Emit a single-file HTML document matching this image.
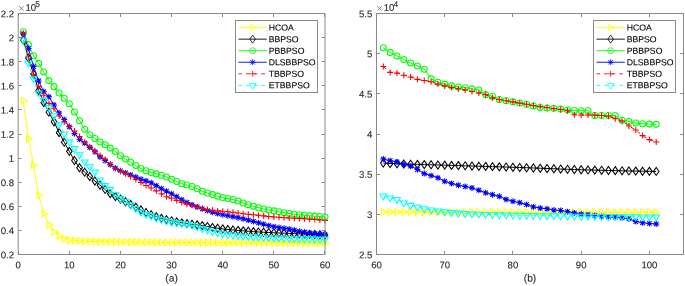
<!DOCTYPE html>
<html><head><meta charset="utf-8"><style>
html,body{margin:0;padding:0;background:#fff;}
body{width:685px;height:286px;overflow:hidden;}
svg{display:block;will-change:transform;}
text{font-family:"Liberation Sans",sans-serif;fill:#262626;stroke:#262626;stroke-width:0.1px;}
.t{font-size:9.6px;}
.l{font-size:10.2px;}
.g{font-size:8.7px;fill:#000;stroke:#000;}
.sup{font-size:8.3px;}
</style></head><body>
<svg width="685" height="286" viewBox="0 0 685 286">
<rect width="685" height="286" fill="#fff"/>
<defs><clipPath id="ca"><rect x="18.2" y="13.5" width="306.8" height="241.0"/></clipPath><clipPath id="cb"><rect x="376.5" y="13.5" width="307.0" height="241.0"/></clipPath></defs>
<g>
<polyline points="23.31,100.74 28.43,138.70 33.54,165.09 38.65,195.33 43.77,213.65 48.88,224.98 53.99,231.85 59.11,235.94 64.22,238.71 69.33,240.16 74.45,240.64 79.56,240.93 84.67,241.17 89.79,241.35 94.90,241.49 100.01,241.59 105.13,241.69 110.24,241.78 115.35,241.87 120.47,241.95 125.58,242.02 130.69,242.09 135.81,242.15 140.92,242.21 146.03,242.26 151.15,242.31 156.26,242.35 161.37,242.39 166.49,242.42 171.60,242.45 176.71,242.48 181.83,242.50 186.94,242.53 192.05,242.56 197.17,242.58 202.28,242.61 207.39,242.63 212.51,242.65 217.62,242.68 222.73,242.70 227.85,242.72 232.96,242.74 238.07,242.76 243.19,242.78 248.30,242.79 253.41,242.81 258.53,242.83 263.64,242.84 268.75,242.86 273.87,242.87 278.98,242.88 284.09,242.89 289.21,242.90 294.32,242.91 299.43,242.92 304.55,242.92 309.66,242.93 314.77,242.93 319.89,242.93 325.00,242.93" fill="none" stroke="#ffff00" stroke-width="1"/>
<g fill="none" stroke="#ffff00" stroke-width="1.05">
<path d="M27.21 100.74L21.36 97.36L21.36 104.12Z"/>
<path d="M32.33 138.70L26.48 135.32L26.48 142.08Z"/>
<path d="M37.44 165.09L31.59 161.71L31.59 168.47Z"/>
<path d="M42.55 195.33L36.70 191.96L36.70 198.71Z"/>
<path d="M47.67 213.65L41.82 210.27L41.82 217.03Z"/>
<path d="M52.78 224.98L46.93 221.60L46.93 228.35Z"/>
<path d="M57.89 231.85L52.04 228.47L52.04 235.22Z"/>
<path d="M63.01 235.94L57.16 232.57L57.16 239.32Z"/>
<path d="M68.12 238.71L62.27 235.34L62.27 242.09Z"/>
<path d="M73.23 240.16L67.38 236.78L67.38 243.54Z"/>
<path d="M78.35 240.64L72.50 237.27L72.50 244.02Z"/>
<path d="M83.46 240.93L77.61 237.56L77.61 244.31Z"/>
<path d="M88.57 241.17L82.72 237.79L82.72 244.55Z"/>
<path d="M93.69 241.35L87.84 237.97L87.84 244.73Z"/>
<path d="M98.80 241.49L92.95 238.11L92.95 244.86Z"/>
<path d="M103.91 241.59L98.06 238.21L98.06 244.97Z"/>
<path d="M109.03 241.69L103.18 238.31L103.18 245.07Z"/>
<path d="M114.14 241.78L108.29 238.41L108.29 245.16Z"/>
<path d="M119.25 241.87L113.40 238.49L113.40 245.25Z"/>
<path d="M124.37 241.95L118.52 238.57L118.52 245.33Z"/>
<path d="M129.48 242.02L123.63 238.65L123.63 245.40Z"/>
<path d="M134.59 242.09L128.74 238.71L128.74 245.47Z"/>
<path d="M139.71 242.15L133.86 238.78L133.86 245.53Z"/>
<path d="M144.82 242.21L138.97 238.83L138.97 245.59Z"/>
<path d="M149.93 242.26L144.08 238.88L144.08 245.64Z"/>
<path d="M155.05 242.31L149.20 238.93L149.20 245.68Z"/>
<path d="M160.16 242.35L154.31 238.97L154.31 245.73Z"/>
<path d="M165.27 242.39L159.42 239.01L159.42 245.76Z"/>
<path d="M170.39 242.42L164.54 239.04L164.54 245.80Z"/>
<path d="M175.50 242.45L169.65 239.07L169.65 245.83Z"/>
<path d="M180.61 242.48L174.76 239.10L174.76 245.85Z"/>
<path d="M185.73 242.50L179.88 239.13L179.88 245.88Z"/>
<path d="M190.84 242.53L184.99 239.15L184.99 245.91Z"/>
<path d="M195.95 242.56L190.10 239.18L190.10 245.93Z"/>
<path d="M201.07 242.58L195.22 239.20L195.22 245.96Z"/>
<path d="M206.18 242.61L200.33 239.23L200.33 245.98Z"/>
<path d="M211.29 242.63L205.44 239.25L205.44 246.01Z"/>
<path d="M216.41 242.65L210.56 239.28L210.56 246.03Z"/>
<path d="M221.52 242.68L215.67 239.30L215.67 246.05Z"/>
<path d="M226.63 242.70L220.78 239.32L220.78 246.07Z"/>
<path d="M231.75 242.72L225.90 239.34L225.90 246.10Z"/>
<path d="M236.86 242.74L231.01 239.36L231.01 246.12Z"/>
<path d="M241.97 242.76L236.12 239.38L236.12 246.14Z"/>
<path d="M247.09 242.78L241.24 239.40L241.24 246.15Z"/>
<path d="M252.20 242.79L246.35 239.42L246.35 246.17Z"/>
<path d="M257.31 242.81L251.46 239.43L251.46 246.19Z"/>
<path d="M262.43 242.83L256.58 239.45L256.58 246.20Z"/>
<path d="M267.54 242.84L261.69 239.46L261.69 246.22Z"/>
<path d="M272.65 242.86L266.80 239.48L266.80 246.23Z"/>
<path d="M277.77 242.87L271.92 239.49L271.92 246.25Z"/>
<path d="M282.88 242.88L277.03 239.50L277.03 246.26Z"/>
<path d="M287.99 242.89L282.14 239.51L282.14 246.27Z"/>
<path d="M293.11 242.90L287.26 239.52L287.26 246.28Z"/>
<path d="M298.22 242.91L292.37 239.53L292.37 246.29Z"/>
<path d="M303.33 242.92L297.48 239.54L297.48 246.29Z"/>
<path d="M308.45 242.92L302.60 239.54L302.60 246.30Z"/>
<path d="M313.56 242.93L307.71 239.55L307.71 246.30Z"/>
<path d="M318.67 242.93L312.82 239.55L312.82 246.31Z"/>
<path d="M323.79 242.93L317.94 239.55L317.94 246.31Z"/>
<path d="M328.90 242.93L323.05 239.55L323.05 246.31Z"/>
</g>
<polyline points="23.31,40.01 28.43,58.08 33.54,73.75 38.65,90.62 43.77,102.67 48.88,112.19 53.99,121.71 59.11,132.67 64.22,142.19 69.33,151.35 74.45,160.51 79.56,167.74 84.67,172.20 89.79,176.54 94.90,181.00 100.01,185.21 105.13,189.43 110.24,193.65 115.35,196.53 120.47,199.07 125.58,201.78 130.69,204.49 135.81,207.24 140.92,209.92 146.03,212.45 151.15,214.74 156.26,216.70 161.37,218.35 166.49,219.68 171.60,220.81 176.71,221.87 181.83,222.83 186.94,223.63 192.05,224.23 197.17,224.86 202.28,225.65 207.39,226.55 212.51,227.45 217.62,228.23 222.73,228.88 227.85,229.44 232.96,229.94 238.07,230.41 243.19,230.85 248.30,231.27 253.41,231.64 258.53,231.97 263.64,232.25 268.75,232.51 273.87,232.75 278.98,232.97 284.09,233.19 289.21,233.41 294.32,233.64 299.43,233.87 304.55,234.10 309.66,234.32 314.77,234.54 319.89,234.76 325.00,234.98" fill="none" stroke="#000000" stroke-width="1"/>
<g fill="none" stroke="#000000" stroke-width="1.05">
<path d="M23.31 36.01L26.11 40.01L23.31 44.01L20.51 40.01Z"/>
<path d="M28.43 54.08L31.23 58.08L28.43 62.08L25.63 58.08Z"/>
<path d="M33.54 69.75L36.34 73.75L33.54 77.75L30.74 73.75Z"/>
<path d="M38.65 86.62L41.45 90.62L38.65 94.62L35.85 90.62Z"/>
<path d="M43.77 98.67L46.57 102.67L43.77 106.67L40.97 102.67Z"/>
<path d="M48.88 108.19L51.68 112.19L48.88 116.19L46.08 112.19Z"/>
<path d="M53.99 117.71L56.79 121.71L53.99 125.71L51.19 121.71Z"/>
<path d="M59.11 128.67L61.91 132.67L59.11 136.67L56.31 132.67Z"/>
<path d="M64.22 138.19L67.02 142.19L64.22 146.19L61.42 142.19Z"/>
<path d="M69.33 147.35L72.13 151.35L69.33 155.35L66.53 151.35Z"/>
<path d="M74.45 156.51L77.25 160.51L74.45 164.51L71.65 160.51Z"/>
<path d="M79.56 163.74L82.36 167.74L79.56 171.74L76.76 167.74Z"/>
<path d="M84.67 168.20L87.47 172.20L84.67 176.20L81.87 172.20Z"/>
<path d="M89.79 172.54L92.59 176.54L89.79 180.54L86.99 176.54Z"/>
<path d="M94.90 177.00L97.70 181.00L94.90 185.00L92.10 181.00Z"/>
<path d="M100.01 181.21L102.81 185.21L100.01 189.21L97.21 185.21Z"/>
<path d="M105.13 185.43L107.93 189.43L105.13 193.43L102.33 189.43Z"/>
<path d="M110.24 189.65L113.04 193.65L110.24 197.65L107.44 193.65Z"/>
<path d="M115.35 192.53L118.15 196.53L115.35 200.53L112.55 196.53Z"/>
<path d="M120.47 195.07L123.27 199.07L120.47 203.07L117.67 199.07Z"/>
<path d="M125.58 197.78L128.38 201.78L125.58 205.78L122.78 201.78Z"/>
<path d="M130.69 200.49L133.49 204.49L130.69 208.49L127.89 204.49Z"/>
<path d="M135.81 203.24L138.61 207.24L135.81 211.24L133.01 207.24Z"/>
<path d="M140.92 205.92L143.72 209.92L140.92 213.92L138.12 209.92Z"/>
<path d="M146.03 208.45L148.83 212.45L146.03 216.45L143.23 212.45Z"/>
<path d="M151.15 210.74L153.95 214.74L151.15 218.74L148.35 214.74Z"/>
<path d="M156.26 212.70L159.06 216.70L156.26 220.70L153.46 216.70Z"/>
<path d="M161.37 214.35L164.17 218.35L161.37 222.35L158.57 218.35Z"/>
<path d="M166.49 215.68L169.29 219.68L166.49 223.68L163.69 219.68Z"/>
<path d="M171.60 216.81L174.40 220.81L171.60 224.81L168.80 220.81Z"/>
<path d="M176.71 217.87L179.51 221.87L176.71 225.87L173.91 221.87Z"/>
<path d="M181.83 218.83L184.63 222.83L181.83 226.83L179.03 222.83Z"/>
<path d="M186.94 219.63L189.74 223.63L186.94 227.63L184.14 223.63Z"/>
<path d="M192.05 220.23L194.85 224.23L192.05 228.23L189.25 224.23Z"/>
<path d="M197.17 220.86L199.97 224.86L197.17 228.86L194.37 224.86Z"/>
<path d="M202.28 221.65L205.08 225.65L202.28 229.65L199.48 225.65Z"/>
<path d="M207.39 222.55L210.19 226.55L207.39 230.55L204.59 226.55Z"/>
<path d="M212.51 223.45L215.31 227.45L212.51 231.45L209.71 227.45Z"/>
<path d="M217.62 224.23L220.42 228.23L217.62 232.23L214.82 228.23Z"/>
<path d="M222.73 224.88L225.53 228.88L222.73 232.88L219.93 228.88Z"/>
<path d="M227.85 225.44L230.65 229.44L227.85 233.44L225.05 229.44Z"/>
<path d="M232.96 225.94L235.76 229.94L232.96 233.94L230.16 229.94Z"/>
<path d="M238.07 226.41L240.87 230.41L238.07 234.41L235.27 230.41Z"/>
<path d="M243.19 226.85L245.99 230.85L243.19 234.85L240.39 230.85Z"/>
<path d="M248.30 227.27L251.10 231.27L248.30 235.27L245.50 231.27Z"/>
<path d="M253.41 227.64L256.21 231.64L253.41 235.64L250.61 231.64Z"/>
<path d="M258.53 227.97L261.33 231.97L258.53 235.97L255.73 231.97Z"/>
<path d="M263.64 228.25L266.44 232.25L263.64 236.25L260.84 232.25Z"/>
<path d="M268.75 228.51L271.55 232.51L268.75 236.51L265.95 232.51Z"/>
<path d="M273.87 228.75L276.67 232.75L273.87 236.75L271.07 232.75Z"/>
<path d="M278.98 228.97L281.78 232.97L278.98 236.97L276.18 232.97Z"/>
<path d="M284.09 229.19L286.89 233.19L284.09 237.19L281.29 233.19Z"/>
<path d="M289.21 229.41L292.01 233.41L289.21 237.41L286.41 233.41Z"/>
<path d="M294.32 229.64L297.12 233.64L294.32 237.64L291.52 233.64Z"/>
<path d="M299.43 229.87L302.23 233.87L299.43 237.87L296.63 233.87Z"/>
<path d="M304.55 230.10L307.35 234.10L304.55 238.10L301.75 234.10Z"/>
<path d="M309.66 230.32L312.46 234.32L309.66 238.32L306.86 234.32Z"/>
<path d="M314.77 230.54L317.57 234.54L314.77 238.54L311.97 234.54Z"/>
<path d="M319.89 230.76L322.69 234.76L319.89 238.76L317.09 234.76Z"/>
<path d="M325.00 230.98L327.80 234.98L325.00 238.98L322.20 234.98Z"/>
</g>
<polyline points="23.31,31.70 28.43,44.59 33.54,55.67 38.65,63.39 43.77,71.94 48.88,80.62 53.99,86.64 59.11,92.91 64.22,98.33 69.33,103.75 74.45,111.95 79.56,120.74 84.67,129.18 89.79,134.84 94.90,138.58 100.01,141.95 105.13,144.84 110.24,148.10 115.35,151.47 120.47,155.69 125.58,159.06 130.69,162.32 135.81,165.57 140.92,168.46 146.03,170.72 151.15,172.56 156.26,173.89 161.37,175.21 166.49,177.07 171.60,179.19 176.71,181.50 181.83,183.65 186.94,185.08 192.05,186.54 197.17,188.84 202.28,191.24 207.39,193.03 212.51,194.61 217.62,196.14 222.73,197.50 227.85,198.55 232.96,199.52 238.07,200.92 243.19,203.05 248.30,204.79 253.41,206.37 258.53,207.75 263.64,208.90 268.75,209.92 273.87,210.88 278.98,211.83 284.09,212.74 289.21,213.53 294.32,214.21 299.43,214.81 304.55,215.34 309.66,215.77 314.77,216.14 319.89,216.54 325.00,217.02" fill="none" stroke="#00ff00" stroke-width="1"/>
<g fill="none" stroke="#00ff00" stroke-width="1.05">
<circle cx="23.31" cy="31.70" r="3.00"/>
<circle cx="28.43" cy="44.59" r="3.00"/>
<circle cx="33.54" cy="55.67" r="3.00"/>
<circle cx="38.65" cy="63.39" r="3.00"/>
<circle cx="43.77" cy="71.94" r="3.00"/>
<circle cx="48.88" cy="80.62" r="3.00"/>
<circle cx="53.99" cy="86.64" r="3.00"/>
<circle cx="59.11" cy="92.91" r="3.00"/>
<circle cx="64.22" cy="98.33" r="3.00"/>
<circle cx="69.33" cy="103.75" r="3.00"/>
<circle cx="74.45" cy="111.95" r="3.00"/>
<circle cx="79.56" cy="120.74" r="3.00"/>
<circle cx="84.67" cy="129.18" r="3.00"/>
<circle cx="89.79" cy="134.84" r="3.00"/>
<circle cx="94.90" cy="138.58" r="3.00"/>
<circle cx="100.01" cy="141.95" r="3.00"/>
<circle cx="105.13" cy="144.84" r="3.00"/>
<circle cx="110.24" cy="148.10" r="3.00"/>
<circle cx="115.35" cy="151.47" r="3.00"/>
<circle cx="120.47" cy="155.69" r="3.00"/>
<circle cx="125.58" cy="159.06" r="3.00"/>
<circle cx="130.69" cy="162.32" r="3.00"/>
<circle cx="135.81" cy="165.57" r="3.00"/>
<circle cx="140.92" cy="168.46" r="3.00"/>
<circle cx="146.03" cy="170.72" r="3.00"/>
<circle cx="151.15" cy="172.56" r="3.00"/>
<circle cx="156.26" cy="173.89" r="3.00"/>
<circle cx="161.37" cy="175.21" r="3.00"/>
<circle cx="166.49" cy="177.07" r="3.00"/>
<circle cx="171.60" cy="179.19" r="3.00"/>
<circle cx="176.71" cy="181.50" r="3.00"/>
<circle cx="181.83" cy="183.65" r="3.00"/>
<circle cx="186.94" cy="185.08" r="3.00"/>
<circle cx="192.05" cy="186.54" r="3.00"/>
<circle cx="197.17" cy="188.84" r="3.00"/>
<circle cx="202.28" cy="191.24" r="3.00"/>
<circle cx="207.39" cy="193.03" r="3.00"/>
<circle cx="212.51" cy="194.61" r="3.00"/>
<circle cx="217.62" cy="196.14" r="3.00"/>
<circle cx="222.73" cy="197.50" r="3.00"/>
<circle cx="227.85" cy="198.55" r="3.00"/>
<circle cx="232.96" cy="199.52" r="3.00"/>
<circle cx="238.07" cy="200.92" r="3.00"/>
<circle cx="243.19" cy="203.05" r="3.00"/>
<circle cx="248.30" cy="204.79" r="3.00"/>
<circle cx="253.41" cy="206.37" r="3.00"/>
<circle cx="258.53" cy="207.75" r="3.00"/>
<circle cx="263.64" cy="208.90" r="3.00"/>
<circle cx="268.75" cy="209.92" r="3.00"/>
<circle cx="273.87" cy="210.88" r="3.00"/>
<circle cx="278.98" cy="211.83" r="3.00"/>
<circle cx="284.09" cy="212.74" r="3.00"/>
<circle cx="289.21" cy="213.53" r="3.00"/>
<circle cx="294.32" cy="214.21" r="3.00"/>
<circle cx="299.43" cy="214.81" r="3.00"/>
<circle cx="304.55" cy="215.34" r="3.00"/>
<circle cx="309.66" cy="215.77" r="3.00"/>
<circle cx="314.77" cy="216.14" r="3.00"/>
<circle cx="319.89" cy="216.54" r="3.00"/>
<circle cx="325.00" cy="217.02" r="3.00"/>
</g>
<polyline points="23.31,33.99 28.43,48.44 33.54,66.52 38.65,80.98 43.77,91.70 48.88,96.77 53.99,104.96 59.11,113.03 64.22,119.54 69.33,126.77 74.45,133.40 79.56,139.30 84.67,143.04 89.79,147.38 94.90,151.83 100.01,156.89 105.13,160.51 110.24,164.73 115.35,168.02 120.47,170.75 125.58,172.95 130.69,174.97 135.81,177.12 140.92,179.19 146.03,180.92 151.15,182.80 156.26,185.63 161.37,188.71 166.49,191.24 171.60,193.77 176.71,196.71 181.83,199.67 186.94,202.42 192.05,204.85 197.17,206.92 202.28,208.83 207.39,210.57 212.51,212.14 217.62,213.53 222.73,214.67 227.85,215.70 232.96,216.73 238.07,217.74 243.19,218.83 248.30,220.09 253.41,221.46 258.53,222.81 263.64,224.17 268.75,225.52 273.87,226.66 278.98,227.53 284.09,228.27 289.21,229.07 294.32,230.12 299.43,231.26 304.55,232.21 309.66,232.93 314.77,233.58 319.89,234.11 325.00,234.50" fill="none" stroke="#0000ff" stroke-width="1"/>
<g fill="none" stroke="#0000ff" stroke-width="1.05">
<path d="M20.31 33.99H26.31M23.31 30.99V36.99M21.06 31.74L25.56 36.24M21.06 36.24L25.56 31.74"/>
<path d="M25.43 48.44H31.43M28.43 45.44V51.44M26.18 46.19L30.68 50.69M26.18 50.69L30.68 46.19"/>
<path d="M30.54 66.52H36.54M33.54 63.52V69.52M31.29 64.27L35.79 68.77M31.29 68.77L35.79 64.27"/>
<path d="M35.65 80.98H41.65M38.65 77.98V83.98M36.40 78.73L40.90 83.23M36.40 83.23L40.90 78.73"/>
<path d="M40.77 91.70H46.77M43.77 88.70V94.70M41.52 89.45L46.02 93.95M41.52 93.95L46.02 89.45"/>
<path d="M45.88 96.77H51.88M48.88 93.77V99.77M46.63 94.52L51.13 99.02M46.63 99.02L51.13 94.52"/>
<path d="M50.99 104.96H56.99M53.99 101.96V107.96M51.74 102.71L56.24 107.21M51.74 107.21L56.24 102.71"/>
<path d="M56.11 113.03H62.11M59.11 110.03V116.03M56.86 110.78L61.36 115.28M56.86 115.28L61.36 110.78"/>
<path d="M61.22 119.54H67.22M64.22 116.54V122.54M61.97 117.29L66.47 121.79M61.97 121.79L66.47 117.29"/>
<path d="M66.33 126.77H72.33M69.33 123.77V129.77M67.08 124.52L71.58 129.02M67.08 129.02L71.58 124.52"/>
<path d="M71.45 133.40H77.45M74.45 130.40V136.40M72.20 131.15L76.70 135.65M72.20 135.65L76.70 131.15"/>
<path d="M76.56 139.30H82.56M79.56 136.30V142.30M77.31 137.05L81.81 141.55M77.31 141.55L81.81 137.05"/>
<path d="M81.67 143.04H87.67M84.67 140.04V146.04M82.42 140.79L86.92 145.29M82.42 145.29L86.92 140.79"/>
<path d="M86.79 147.38H92.79M89.79 144.38V150.38M87.54 145.13L92.04 149.63M87.54 149.63L92.04 145.13"/>
<path d="M91.90 151.83H97.90M94.90 148.83V154.83M92.65 149.58L97.15 154.08M92.65 154.08L97.15 149.58"/>
<path d="M97.01 156.89H103.01M100.01 153.89V159.89M97.76 154.64L102.26 159.14M97.76 159.14L102.26 154.64"/>
<path d="M102.13 160.51H108.13M105.13 157.51V163.51M102.88 158.26L107.38 162.76M102.88 162.76L107.38 158.26"/>
<path d="M107.24 164.73H113.24M110.24 161.73V167.73M107.99 162.48L112.49 166.98M107.99 166.98L112.49 162.48"/>
<path d="M112.35 168.02H118.35M115.35 165.02V171.02M113.10 165.77L117.60 170.27M113.10 170.27L117.60 165.77"/>
<path d="M117.47 170.75H123.47M120.47 167.75V173.75M118.22 168.50L122.72 173.00M118.22 173.00L122.72 168.50"/>
<path d="M122.58 172.95H128.58M125.58 169.95V175.95M123.33 170.70L127.83 175.20M123.33 175.20L127.83 170.70"/>
<path d="M127.69 174.97H133.69M130.69 171.97V177.97M128.44 172.72L132.94 177.22M128.44 177.22L132.94 172.72"/>
<path d="M132.81 177.12H138.81M135.81 174.12V180.12M133.56 174.87L138.06 179.37M133.56 179.37L138.06 174.87"/>
<path d="M137.92 179.19H143.92M140.92 176.19V182.19M138.67 176.94L143.17 181.44M138.67 181.44L143.17 176.94"/>
<path d="M143.03 180.92H149.03M146.03 177.92V183.92M143.78 178.67L148.28 183.17M143.78 183.17L148.28 178.67"/>
<path d="M148.15 182.80H154.15M151.15 179.80V185.80M148.90 180.55L153.40 185.05M148.90 185.05L153.40 180.55"/>
<path d="M153.26 185.63H159.26M156.26 182.63V188.63M154.01 183.38L158.51 187.88M154.01 187.88L158.51 183.38"/>
<path d="M158.37 188.71H164.37M161.37 185.71V191.71M159.12 186.46L163.62 190.96M159.12 190.96L163.62 186.46"/>
<path d="M163.49 191.24H169.49M166.49 188.24V194.24M164.24 188.99L168.74 193.49M164.24 193.49L168.74 188.99"/>
<path d="M168.60 193.77H174.60M171.60 190.77V196.77M169.35 191.52L173.85 196.02M169.35 196.02L173.85 191.52"/>
<path d="M173.71 196.71H179.71M176.71 193.71V199.71M174.46 194.46L178.96 198.96M174.46 198.96L178.96 194.46"/>
<path d="M178.83 199.67H184.83M181.83 196.67V202.67M179.58 197.42L184.08 201.92M179.58 201.92L184.08 197.42"/>
<path d="M183.94 202.42H189.94M186.94 199.42V205.42M184.69 200.17L189.19 204.67M184.69 204.67L189.19 200.17"/>
<path d="M189.05 204.85H195.05M192.05 201.85V207.85M189.80 202.60L194.30 207.10M189.80 207.10L194.30 202.60"/>
<path d="M194.17 206.92H200.17M197.17 203.92V209.92M194.92 204.67L199.42 209.17M194.92 209.17L199.42 204.67"/>
<path d="M199.28 208.83H205.28M202.28 205.83V211.83M200.03 206.58L204.53 211.08M200.03 211.08L204.53 206.58"/>
<path d="M204.39 210.57H210.39M207.39 207.57V213.57M205.14 208.32L209.64 212.82M205.14 212.82L209.64 208.32"/>
<path d="M209.51 212.14H215.51M212.51 209.14V215.14M210.26 209.89L214.76 214.39M210.26 214.39L214.76 209.89"/>
<path d="M214.62 213.53H220.62M217.62 210.53V216.53M215.37 211.28L219.87 215.78M215.37 215.78L219.87 211.28"/>
<path d="M219.73 214.67H225.73M222.73 211.67V217.67M220.48 212.42L224.98 216.92M220.48 216.92L224.98 212.42"/>
<path d="M224.85 215.70H230.85M227.85 212.70V218.70M225.60 213.45L230.10 217.95M225.60 217.95L230.10 213.45"/>
<path d="M229.96 216.73H235.96M232.96 213.73V219.73M230.71 214.48L235.21 218.98M230.71 218.98L235.21 214.48"/>
<path d="M235.07 217.74H241.07M238.07 214.74V220.74M235.82 215.49L240.32 219.99M235.82 219.99L240.32 215.49"/>
<path d="M240.19 218.83H246.19M243.19 215.83V221.83M240.94 216.58L245.44 221.08M240.94 221.08L245.44 216.58"/>
<path d="M245.30 220.09H251.30M248.30 217.09V223.09M246.05 217.84L250.55 222.34M246.05 222.34L250.55 217.84"/>
<path d="M250.41 221.46H256.41M253.41 218.46V224.46M251.16 219.21L255.66 223.71M251.16 223.71L255.66 219.21"/>
<path d="M255.53 222.81H261.53M258.53 219.81V225.81M256.28 220.56L260.78 225.06M256.28 225.06L260.78 220.56"/>
<path d="M260.64 224.17H266.64M263.64 221.17V227.17M261.39 221.92L265.89 226.42M261.39 226.42L265.89 221.92"/>
<path d="M265.75 225.52H271.75M268.75 222.52V228.52M266.50 223.27L271.00 227.77M266.50 227.77L271.00 223.27"/>
<path d="M270.87 226.66H276.87M273.87 223.66V229.66M271.62 224.41L276.12 228.91M271.62 228.91L276.12 224.41"/>
<path d="M275.98 227.53H281.98M278.98 224.53V230.53M276.73 225.28L281.23 229.78M276.73 229.78L281.23 225.28"/>
<path d="M281.09 228.27H287.09M284.09 225.27V231.27M281.84 226.02L286.34 230.52M281.84 230.52L286.34 226.02"/>
<path d="M286.21 229.07H292.21M289.21 226.07V232.07M286.96 226.82L291.46 231.32M286.96 231.32L291.46 226.82"/>
<path d="M291.32 230.12H297.32M294.32 227.12V233.12M292.07 227.87L296.57 232.37M292.07 232.37L296.57 227.87"/>
<path d="M296.43 231.26H302.43M299.43 228.26V234.26M297.18 229.01L301.68 233.51M297.18 233.51L301.68 229.01"/>
<path d="M301.55 232.21H307.55M304.55 229.21V235.21M302.30 229.96L306.80 234.46M302.30 234.46L306.80 229.96"/>
<path d="M306.66 232.93H312.66M309.66 229.93V235.93M307.41 230.68L311.91 235.18M307.41 235.18L311.91 230.68"/>
<path d="M311.77 233.58H317.77M314.77 230.58V236.58M312.52 231.33L317.02 235.83M312.52 235.83L317.02 231.33"/>
<path d="M316.89 234.11H322.89M319.89 231.11V237.11M317.64 231.86L322.14 236.36M317.64 236.36L322.14 231.86"/>
<path d="M322.00 234.50H328.00M325.00 231.50V237.50M322.75 232.25L327.25 236.75M322.75 236.75L327.25 232.25"/>
</g>
<polyline points="23.31,33.26 28.43,56.28 33.54,74.23 38.65,86.64 43.77,95.32 48.88,103.39 53.99,108.69 59.11,115.92 64.22,121.95 69.33,126.17 74.45,130.99 79.56,136.41 84.67,142.19 89.79,146.65 94.90,150.87 100.01,155.45 105.13,159.31 110.24,164.12 115.35,168.58 120.47,171.48 125.58,173.64 130.69,176.54 135.81,179.55 140.92,182.44 146.03,185.45 151.15,187.98 156.26,190.88 161.37,193.77 166.49,196.78 171.60,198.23 176.71,200.40 181.83,202.56 186.94,204.13 192.05,205.58 197.17,207.04 202.28,208.45 207.39,209.55 212.51,210.30 217.62,210.88 222.73,211.30 227.85,211.72 232.96,212.35 238.07,213.09 243.19,213.77 248.30,214.32 253.41,214.83 258.53,215.34 263.64,215.88 268.75,216.42 273.87,216.90 278.98,217.30 284.09,217.66 289.21,217.99 294.32,218.28 299.43,218.54 304.55,218.83 309.66,219.17 314.77,219.55 319.89,219.96 325.00,220.40" fill="none" stroke="#ff0000" stroke-width="1" stroke-dasharray="3.6,4"/>
<g fill="none" stroke="#ff0000" stroke-width="1.05">
<path d="M20.31 33.26H26.31M23.31 30.26V36.26"/>
<path d="M25.43 56.28H31.43M28.43 53.28V59.28"/>
<path d="M30.54 74.23H36.54M33.54 71.23V77.23"/>
<path d="M35.65 86.64H41.65M38.65 83.64V89.64"/>
<path d="M40.77 95.32H46.77M43.77 92.32V98.32"/>
<path d="M45.88 103.39H51.88M48.88 100.39V106.39"/>
<path d="M50.99 108.69H56.99M53.99 105.69V111.69"/>
<path d="M56.11 115.92H62.11M59.11 112.92V118.92"/>
<path d="M61.22 121.95H67.22M64.22 118.95V124.95"/>
<path d="M66.33 126.17H72.33M69.33 123.17V129.17"/>
<path d="M71.45 130.99H77.45M74.45 127.99V133.99"/>
<path d="M76.56 136.41H82.56M79.56 133.41V139.41"/>
<path d="M81.67 142.19H87.67M84.67 139.19V145.19"/>
<path d="M86.79 146.65H92.79M89.79 143.65V149.65"/>
<path d="M91.90 150.87H97.90M94.90 147.87V153.87"/>
<path d="M97.01 155.45H103.01M100.01 152.45V158.45"/>
<path d="M102.13 159.31H108.13M105.13 156.31V162.31"/>
<path d="M107.24 164.12H113.24M110.24 161.12V167.12"/>
<path d="M112.35 168.58H118.35M115.35 165.58V171.58"/>
<path d="M117.47 171.48H123.47M120.47 168.48V174.48"/>
<path d="M122.58 173.64H128.58M125.58 170.64V176.64"/>
<path d="M127.69 176.54H133.69M130.69 173.54V179.54"/>
<path d="M132.81 179.55H138.81M135.81 176.55V182.55"/>
<path d="M137.92 182.44H143.92M140.92 179.44V185.44"/>
<path d="M143.03 185.45H149.03M146.03 182.45V188.45"/>
<path d="M148.15 187.98H154.15M151.15 184.98V190.98"/>
<path d="M153.26 190.88H159.26M156.26 187.88V193.88"/>
<path d="M158.37 193.77H164.37M161.37 190.77V196.77"/>
<path d="M163.49 196.78H169.49M166.49 193.78V199.78"/>
<path d="M168.60 198.23H174.60M171.60 195.23V201.23"/>
<path d="M173.71 200.40H179.71M176.71 197.40V203.40"/>
<path d="M178.83 202.56H184.83M181.83 199.56V205.56"/>
<path d="M183.94 204.13H189.94M186.94 201.13V207.13"/>
<path d="M189.05 205.58H195.05M192.05 202.58V208.58"/>
<path d="M194.17 207.04H200.17M197.17 204.04V210.04"/>
<path d="M199.28 208.45H205.28M202.28 205.45V211.45"/>
<path d="M204.39 209.55H210.39M207.39 206.55V212.55"/>
<path d="M209.51 210.30H215.51M212.51 207.30V213.30"/>
<path d="M214.62 210.88H220.62M217.62 207.88V213.88"/>
<path d="M219.73 211.30H225.73M222.73 208.30V214.30"/>
<path d="M224.85 211.72H230.85M227.85 208.72V214.72"/>
<path d="M229.96 212.35H235.96M232.96 209.35V215.35"/>
<path d="M235.07 213.09H241.07M238.07 210.09V216.09"/>
<path d="M240.19 213.77H246.19M243.19 210.77V216.77"/>
<path d="M245.30 214.32H251.30M248.30 211.32V217.32"/>
<path d="M250.41 214.83H256.41M253.41 211.83V217.83"/>
<path d="M255.53 215.34H261.53M258.53 212.34V218.34"/>
<path d="M260.64 215.88H266.64M263.64 212.88V218.88"/>
<path d="M265.75 216.42H271.75M268.75 213.42V219.42"/>
<path d="M270.87 216.90H276.87M273.87 213.90V219.90"/>
<path d="M275.98 217.30H281.98M278.98 214.30V220.30"/>
<path d="M281.09 217.66H287.09M284.09 214.66V220.66"/>
<path d="M286.21 217.99H292.21M289.21 214.99V220.99"/>
<path d="M291.32 218.28H297.32M294.32 215.28V221.28"/>
<path d="M296.43 218.54H302.43M299.43 215.54V221.54"/>
<path d="M301.55 218.83H307.55M304.55 215.83V221.83"/>
<path d="M306.66 219.17H312.66M309.66 216.17V222.17"/>
<path d="M311.77 219.55H317.77M314.77 216.55V222.55"/>
<path d="M316.89 219.96H322.89M319.89 216.96V222.96"/>
<path d="M322.00 220.40H328.00M325.00 217.40V223.40"/>
</g>
<polyline points="23.31,39.89 28.43,63.15 33.54,78.81 38.65,92.91 43.77,100.50 48.88,107.61 53.99,115.68 59.11,124.60 64.22,133.88 69.33,142.07 74.45,148.58 79.56,154.73 84.67,161.96 89.79,166.78 94.90,172.08 100.01,180.03 105.13,185.45 110.24,189.31 115.35,194.49 120.47,198.59 125.58,201.12 130.69,204.85 135.81,208.47 140.92,212.08 146.03,214.37 151.15,215.82 156.26,217.99 161.37,219.43 166.49,221.00 171.60,222.01 176.71,222.81 181.83,223.44 186.94,224.13 192.05,225.31 197.17,226.88 202.28,228.56 207.39,230.04 212.51,231.36 217.62,232.65 222.73,233.78 227.85,234.62 232.96,235.20 238.07,235.67 243.19,236.06 248.30,236.43 253.41,236.77 258.53,237.09 263.64,237.39 268.75,237.65 273.87,237.87 278.98,238.07 284.09,238.26 289.21,238.45 294.32,238.62 299.43,238.78 304.55,238.93 309.66,239.06 314.77,239.17 319.89,239.26 325.00,239.32" fill="none" stroke="#00ffff" stroke-width="1" stroke-dasharray="3.6,4"/>
<g fill="none" stroke="#00ffff" stroke-width="1.05">
<path d="M23.31 43.79L19.94 37.94L26.69 37.94Z"/>
<path d="M28.43 67.05L25.05 61.20L31.80 61.20Z"/>
<path d="M33.54 82.71L30.16 76.86L36.92 76.86Z"/>
<path d="M38.65 96.81L35.28 90.96L42.03 90.96Z"/>
<path d="M43.77 104.40L40.39 98.55L47.14 98.55Z"/>
<path d="M48.88 111.51L45.50 105.66L52.26 105.66Z"/>
<path d="M53.99 119.58L50.62 113.73L57.37 113.73Z"/>
<path d="M59.11 128.50L55.73 122.65L62.48 122.65Z"/>
<path d="M64.22 137.78L60.84 131.93L67.60 131.93Z"/>
<path d="M69.33 145.97L65.96 140.12L72.71 140.12Z"/>
<path d="M74.45 152.48L71.07 146.63L77.82 146.63Z"/>
<path d="M79.56 158.63L76.18 152.78L82.94 152.78Z"/>
<path d="M84.67 165.86L81.30 160.01L88.05 160.01Z"/>
<path d="M89.79 170.68L86.41 164.83L93.16 164.83Z"/>
<path d="M94.90 175.98L91.52 170.13L98.28 170.13Z"/>
<path d="M100.01 183.93L96.64 178.08L103.39 178.08Z"/>
<path d="M105.13 189.35L101.75 183.50L108.50 183.50Z"/>
<path d="M110.24 193.21L106.86 187.36L113.62 187.36Z"/>
<path d="M115.35 198.39L111.98 192.54L118.73 192.54Z"/>
<path d="M120.47 202.49L117.09 196.64L123.84 196.64Z"/>
<path d="M125.58 205.02L122.20 199.17L128.96 199.17Z"/>
<path d="M130.69 208.75L127.32 202.90L134.07 202.90Z"/>
<path d="M135.81 212.37L132.43 206.52L139.18 206.52Z"/>
<path d="M140.92 215.98L137.54 210.13L144.30 210.13Z"/>
<path d="M146.03 218.27L142.66 212.42L149.41 212.42Z"/>
<path d="M151.15 219.72L147.77 213.87L154.52 213.87Z"/>
<path d="M156.26 221.89L152.88 216.04L159.64 216.04Z"/>
<path d="M161.37 223.33L158.00 217.48L164.75 217.48Z"/>
<path d="M166.49 224.90L163.11 219.05L169.86 219.05Z"/>
<path d="M171.60 225.91L168.22 220.06L174.98 220.06Z"/>
<path d="M176.71 226.71L173.34 220.86L180.09 220.86Z"/>
<path d="M181.83 227.34L178.45 221.49L185.20 221.49Z"/>
<path d="M186.94 228.03L183.56 222.18L190.32 222.18Z"/>
<path d="M192.05 229.21L188.68 223.36L195.43 223.36Z"/>
<path d="M197.17 230.78L193.79 224.93L200.54 224.93Z"/>
<path d="M202.28 232.46L198.90 226.61L205.66 226.61Z"/>
<path d="M207.39 233.94L204.02 228.09L210.77 228.09Z"/>
<path d="M212.51 235.26L209.13 229.41L215.88 229.41Z"/>
<path d="M217.62 236.55L214.24 230.70L221.00 230.70Z"/>
<path d="M222.73 237.68L219.36 231.83L226.11 231.83Z"/>
<path d="M227.85 238.52L224.47 232.67L231.22 232.67Z"/>
<path d="M232.96 239.10L229.58 233.25L236.34 233.25Z"/>
<path d="M238.07 239.57L234.70 233.72L241.45 233.72Z"/>
<path d="M243.19 239.96L239.81 234.11L246.56 234.11Z"/>
<path d="M248.30 240.33L244.92 234.48L251.68 234.48Z"/>
<path d="M253.41 240.67L250.04 234.82L256.79 234.82Z"/>
<path d="M258.53 240.99L255.15 235.14L261.90 235.14Z"/>
<path d="M263.64 241.29L260.26 235.44L267.02 235.44Z"/>
<path d="M268.75 241.55L265.38 235.70L272.13 235.70Z"/>
<path d="M273.87 241.77L270.49 235.92L277.24 235.92Z"/>
<path d="M278.98 241.97L275.60 236.12L282.36 236.12Z"/>
<path d="M284.09 242.16L280.72 236.31L287.47 236.31Z"/>
<path d="M289.21 242.35L285.83 236.50L292.58 236.50Z"/>
<path d="M294.32 242.52L290.94 236.67L297.70 236.67Z"/>
<path d="M299.43 242.68L296.06 236.83L302.81 236.83Z"/>
<path d="M304.55 242.83L301.17 236.98L307.92 236.98Z"/>
<path d="M309.66 242.96L306.28 237.11L313.04 237.11Z"/>
<path d="M314.77 243.07L311.40 237.22L318.15 237.22Z"/>
<path d="M319.89 243.16L316.51 237.31L323.26 237.31Z"/>
<path d="M325.00 243.22L321.62 237.37L328.38 237.37Z"/>
</g>
</g>
<g>
<polyline points="383.32,211.92 390.14,211.95 396.97,211.99 403.79,212.01 410.61,212.04 417.43,212.07 424.26,212.10 431.08,212.12 437.90,212.14 444.72,212.16 451.54,212.19 458.37,212.21 465.19,212.23 472.01,212.25 478.83,212.27 485.66,212.29 492.48,212.30 499.30,212.31 506.12,212.32 512.94,212.33 519.77,212.33 526.59,212.33 533.41,212.33 540.23,212.33 547.06,212.33 553.88,212.33 560.70,212.33 567.52,212.33 574.34,212.33 581.17,212.33 587.99,212.33 594.81,212.33 601.63,212.33 608.46,212.33 615.28,212.33 622.10,212.33 628.92,212.33 635.74,212.33 642.57,212.33 649.39,212.33 656.21,212.33" fill="none" stroke="#ffff00" stroke-width="1"/>
<g fill="none" stroke="#ffff00" stroke-width="1.05">
<path d="M387.22 211.92L381.37 208.55L381.37 215.30Z"/>
<path d="M394.04 211.95L388.19 208.58L388.19 215.33Z"/>
<path d="M400.87 211.99L395.02 208.61L395.02 215.36Z"/>
<path d="M407.69 212.01L401.84 208.64L401.84 215.39Z"/>
<path d="M414.51 212.04L408.66 208.67L408.66 215.42Z"/>
<path d="M421.33 212.07L415.48 208.69L415.48 215.45Z"/>
<path d="M428.16 212.10L422.31 208.72L422.31 215.47Z"/>
<path d="M434.98 212.12L429.13 208.74L429.13 215.50Z"/>
<path d="M441.80 212.14L435.95 208.77L435.95 215.52Z"/>
<path d="M448.62 212.16L442.77 208.79L442.77 215.54Z"/>
<path d="M455.44 212.19L449.59 208.81L449.59 215.56Z"/>
<path d="M462.27 212.21L456.42 208.83L456.42 215.58Z"/>
<path d="M469.09 212.23L463.24 208.85L463.24 215.61Z"/>
<path d="M475.91 212.25L470.06 208.87L470.06 215.63Z"/>
<path d="M482.73 212.27L476.88 208.89L476.88 215.65Z"/>
<path d="M489.56 212.29L483.71 208.91L483.71 215.67Z"/>
<path d="M496.38 212.30L490.53 208.93L490.53 215.68Z"/>
<path d="M503.20 212.31L497.35 208.94L497.35 215.69Z"/>
<path d="M510.02 212.32L504.17 208.94L504.17 215.70Z"/>
<path d="M516.84 212.33L510.99 208.95L510.99 215.70Z"/>
<path d="M523.67 212.33L517.82 208.95L517.82 215.70Z"/>
<path d="M530.49 212.33L524.64 208.95L524.64 215.70Z"/>
<path d="M537.31 212.33L531.46 208.95L531.46 215.70Z"/>
<path d="M544.13 212.33L538.28 208.95L538.28 215.70Z"/>
<path d="M550.96 212.33L545.11 208.95L545.11 215.70Z"/>
<path d="M557.78 212.33L551.93 208.95L551.93 215.70Z"/>
<path d="M564.60 212.33L558.75 208.95L558.75 215.70Z"/>
<path d="M571.42 212.33L565.57 208.95L565.57 215.70Z"/>
<path d="M578.24 212.33L572.39 208.95L572.39 215.70Z"/>
<path d="M585.07 212.33L579.22 208.95L579.22 215.70Z"/>
<path d="M591.89 212.33L586.04 208.95L586.04 215.70Z"/>
<path d="M598.71 212.33L592.86 208.95L592.86 215.70Z"/>
<path d="M605.53 212.33L599.68 208.95L599.68 215.70Z"/>
<path d="M612.36 212.33L606.51 208.95L606.51 215.70Z"/>
<path d="M619.18 212.33L613.33 208.95L613.33 215.70Z"/>
<path d="M626.00 212.33L620.15 208.95L620.15 215.70Z"/>
<path d="M632.82 212.33L626.97 208.95L626.97 215.70Z"/>
<path d="M639.64 212.33L633.79 208.95L633.79 215.70Z"/>
<path d="M646.47 212.33L640.62 208.95L640.62 215.70Z"/>
<path d="M653.29 212.33L647.44 208.95L647.44 215.70Z"/>
<path d="M660.11 212.33L654.26 208.95L654.26 215.70Z"/>
</g>
<polyline points="383.32,163.08 390.14,163.48 396.97,163.76 403.79,164.00 410.61,164.22 417.43,164.41 424.26,164.60 431.08,164.78 437.90,164.97 444.72,165.17 451.54,165.38 458.37,165.59 465.19,165.80 472.01,166.01 478.83,166.22 485.66,166.42 492.48,166.64 499.30,166.85 506.12,167.07 512.94,167.29 519.77,167.51 526.59,167.74 533.41,167.98 540.23,168.24 547.06,168.51 553.88,168.78 560.70,169.05 567.52,169.30 574.34,169.54 581.17,169.75 587.99,169.94 594.81,170.12 601.63,170.30 608.46,170.48 615.28,170.64 622.10,170.80 628.92,170.95 635.74,171.09 642.57,171.22 649.39,171.33 656.21,171.44" fill="none" stroke="#000000" stroke-width="1"/>
<g fill="none" stroke="#000000" stroke-width="1.05">
<path d="M383.32 159.08L386.12 163.08L383.32 167.08L380.52 163.08Z"/>
<path d="M390.14 159.48L392.94 163.48L390.14 167.48L387.34 163.48Z"/>
<path d="M396.97 159.76L399.77 163.76L396.97 167.76L394.17 163.76Z"/>
<path d="M403.79 160.00L406.59 164.00L403.79 168.00L400.99 164.00Z"/>
<path d="M410.61 160.22L413.41 164.22L410.61 168.22L407.81 164.22Z"/>
<path d="M417.43 160.41L420.23 164.41L417.43 168.41L414.63 164.41Z"/>
<path d="M424.26 160.60L427.06 164.60L424.26 168.60L421.46 164.60Z"/>
<path d="M431.08 160.78L433.88 164.78L431.08 168.78L428.28 164.78Z"/>
<path d="M437.90 160.97L440.70 164.97L437.90 168.97L435.10 164.97Z"/>
<path d="M444.72 161.17L447.52 165.17L444.72 169.17L441.92 165.17Z"/>
<path d="M451.54 161.38L454.34 165.38L451.54 169.38L448.74 165.38Z"/>
<path d="M458.37 161.59L461.17 165.59L458.37 169.59L455.57 165.59Z"/>
<path d="M465.19 161.80L467.99 165.80L465.19 169.80L462.39 165.80Z"/>
<path d="M472.01 162.01L474.81 166.01L472.01 170.01L469.21 166.01Z"/>
<path d="M478.83 162.22L481.63 166.22L478.83 170.22L476.03 166.22Z"/>
<path d="M485.66 162.42L488.46 166.42L485.66 170.42L482.86 166.42Z"/>
<path d="M492.48 162.64L495.28 166.64L492.48 170.64L489.68 166.64Z"/>
<path d="M499.30 162.85L502.10 166.85L499.30 170.85L496.50 166.85Z"/>
<path d="M506.12 163.07L508.92 167.07L506.12 171.07L503.32 167.07Z"/>
<path d="M512.94 163.29L515.74 167.29L512.94 171.29L510.14 167.29Z"/>
<path d="M519.77 163.51L522.57 167.51L519.77 171.51L516.97 167.51Z"/>
<path d="M526.59 163.74L529.39 167.74L526.59 171.74L523.79 167.74Z"/>
<path d="M533.41 163.98L536.21 167.98L533.41 171.98L530.61 167.98Z"/>
<path d="M540.23 164.24L543.03 168.24L540.23 172.24L537.43 168.24Z"/>
<path d="M547.06 164.51L549.86 168.51L547.06 172.51L544.26 168.51Z"/>
<path d="M553.88 164.78L556.68 168.78L553.88 172.78L551.08 168.78Z"/>
<path d="M560.70 165.05L563.50 169.05L560.70 173.05L557.90 169.05Z"/>
<path d="M567.52 165.30L570.32 169.30L567.52 173.30L564.72 169.30Z"/>
<path d="M574.34 165.54L577.14 169.54L574.34 173.54L571.54 169.54Z"/>
<path d="M581.17 165.75L583.97 169.75L581.17 173.75L578.37 169.75Z"/>
<path d="M587.99 165.94L590.79 169.94L587.99 173.94L585.19 169.94Z"/>
<path d="M594.81 166.12L597.61 170.12L594.81 174.12L592.01 170.12Z"/>
<path d="M601.63 166.30L604.43 170.30L601.63 174.30L598.83 170.30Z"/>
<path d="M608.46 166.48L611.26 170.48L608.46 174.48L605.66 170.48Z"/>
<path d="M615.28 166.64L618.08 170.64L615.28 174.64L612.48 170.64Z"/>
<path d="M622.10 166.80L624.90 170.80L622.10 174.80L619.30 170.80Z"/>
<path d="M628.92 166.95L631.72 170.95L628.92 174.95L626.12 170.95Z"/>
<path d="M635.74 167.09L638.54 171.09L635.74 175.09L632.94 171.09Z"/>
<path d="M642.57 167.22L645.37 171.22L642.57 175.22L639.77 171.22Z"/>
<path d="M649.39 167.33L652.19 171.33L649.39 175.33L646.59 171.33Z"/>
<path d="M656.21 167.44L659.01 171.44L656.21 175.44L653.41 171.44Z"/>
</g>
<polyline points="383.32,47.80 390.14,52.38 396.97,56.00 403.79,59.53 410.61,62.99 417.43,66.04 424.26,69.25 431.08,78.89 437.90,82.19 444.72,84.11 451.54,85.88 458.37,86.92 465.19,87.65 472.01,88.85 478.83,89.90 485.66,94.64 492.48,96.48 499.30,99.46 506.12,100.81 512.94,101.87 519.77,103.03 526.59,104.28 533.41,106.07 540.23,107.49 547.06,107.92 553.88,108.29 560.70,109.10 567.52,109.90 574.34,110.44 581.17,110.70 587.99,110.70 594.81,115.52 601.63,115.52 608.46,115.52 615.28,115.52 622.10,120.34 628.92,121.47 635.74,123.07 642.57,123.72 649.39,124.12 656.21,124.36" fill="none" stroke="#00ff00" stroke-width="1"/>
<g fill="none" stroke="#00ff00" stroke-width="1.05">
<circle cx="383.32" cy="47.80" r="3.00"/>
<circle cx="390.14" cy="52.38" r="3.00"/>
<circle cx="396.97" cy="56.00" r="3.00"/>
<circle cx="403.79" cy="59.53" r="3.00"/>
<circle cx="410.61" cy="62.99" r="3.00"/>
<circle cx="417.43" cy="66.04" r="3.00"/>
<circle cx="424.26" cy="69.25" r="3.00"/>
<circle cx="431.08" cy="78.89" r="3.00"/>
<circle cx="437.90" cy="82.19" r="3.00"/>
<circle cx="444.72" cy="84.11" r="3.00"/>
<circle cx="451.54" cy="85.88" r="3.00"/>
<circle cx="458.37" cy="86.92" r="3.00"/>
<circle cx="465.19" cy="87.65" r="3.00"/>
<circle cx="472.01" cy="88.85" r="3.00"/>
<circle cx="478.83" cy="89.90" r="3.00"/>
<circle cx="485.66" cy="94.64" r="3.00"/>
<circle cx="492.48" cy="96.48" r="3.00"/>
<circle cx="499.30" cy="99.46" r="3.00"/>
<circle cx="506.12" cy="100.81" r="3.00"/>
<circle cx="512.94" cy="101.87" r="3.00"/>
<circle cx="519.77" cy="103.03" r="3.00"/>
<circle cx="526.59" cy="104.28" r="3.00"/>
<circle cx="533.41" cy="106.07" r="3.00"/>
<circle cx="540.23" cy="107.49" r="3.00"/>
<circle cx="547.06" cy="107.92" r="3.00"/>
<circle cx="553.88" cy="108.29" r="3.00"/>
<circle cx="560.70" cy="109.10" r="3.00"/>
<circle cx="567.52" cy="109.90" r="3.00"/>
<circle cx="574.34" cy="110.44" r="3.00"/>
<circle cx="581.17" cy="110.70" r="3.00"/>
<circle cx="587.99" cy="110.70" r="3.00"/>
<circle cx="594.81" cy="115.52" r="3.00"/>
<circle cx="601.63" cy="115.52" r="3.00"/>
<circle cx="608.46" cy="115.52" r="3.00"/>
<circle cx="615.28" cy="115.52" r="3.00"/>
<circle cx="622.10" cy="120.34" r="3.00"/>
<circle cx="628.92" cy="121.47" r="3.00"/>
<circle cx="635.74" cy="123.07" r="3.00"/>
<circle cx="642.57" cy="123.72" r="3.00"/>
<circle cx="649.39" cy="124.12" r="3.00"/>
<circle cx="656.21" cy="124.36" r="3.00"/>
</g>
<polyline points="383.32,159.06 390.14,160.67 396.97,161.88 403.79,164.21 410.61,166.13 417.43,169.51 424.26,173.60 431.08,175.53 437.90,177.78 444.72,181.32 451.54,183.41 458.37,185.17 465.19,186.54 472.01,187.90 478.83,190.23 485.66,192.80 492.48,194.73 499.30,196.34 506.12,199.39 512.94,201.32 519.77,202.69 526.59,204.53 533.41,206.94 540.23,208.07 547.06,208.79 553.88,210.00 560.70,210.48 567.52,211.68 574.34,212.89 581.17,214.09 587.99,214.73 594.81,215.54 601.63,216.18 608.46,216.90 615.28,217.15 622.10,217.87 628.92,218.67 635.74,221.56 642.57,222.77 649.39,223.49 656.21,223.97" fill="none" stroke="#0000ff" stroke-width="1"/>
<g fill="none" stroke="#0000ff" stroke-width="1.05">
<path d="M380.32 159.06H386.32M383.32 156.06V162.06M381.07 156.81L385.57 161.31M381.07 161.31L385.57 156.81"/>
<path d="M387.14 160.67H393.14M390.14 157.67V163.67M387.89 158.42L392.39 162.92M387.89 162.92L392.39 158.42"/>
<path d="M393.97 161.88H399.97M396.97 158.88V164.88M394.72 159.63L399.22 164.13M394.72 164.13L399.22 159.63"/>
<path d="M400.79 164.21H406.79M403.79 161.21V167.21M401.54 161.96L406.04 166.46M401.54 166.46L406.04 161.96"/>
<path d="M407.61 166.13H413.61M410.61 163.13V169.13M408.36 163.88L412.86 168.38M408.36 168.38L412.86 163.88"/>
<path d="M414.43 169.51H420.43M417.43 166.51V172.51M415.18 167.26L419.68 171.76M415.18 171.76L419.68 167.26"/>
<path d="M421.26 173.60H427.26M424.26 170.60V176.60M422.01 171.35L426.51 175.85M422.01 175.85L426.51 171.35"/>
<path d="M428.08 175.53H434.08M431.08 172.53V178.53M428.83 173.28L433.33 177.78M428.83 177.78L433.33 173.28"/>
<path d="M434.90 177.78H440.90M437.90 174.78V180.78M435.65 175.53L440.15 180.03M435.65 180.03L440.15 175.53"/>
<path d="M441.72 181.32H447.72M444.72 178.32V184.32M442.47 179.07L446.97 183.57M442.47 183.57L446.97 179.07"/>
<path d="M448.54 183.41H454.54M451.54 180.41V186.41M449.29 181.16L453.79 185.66M449.29 185.66L453.79 181.16"/>
<path d="M455.37 185.17H461.37M458.37 182.17V188.17M456.12 182.92L460.62 187.42M456.12 187.42L460.62 182.92"/>
<path d="M462.19 186.54H468.19M465.19 183.54V189.54M462.94 184.29L467.44 188.79M462.94 188.79L467.44 184.29"/>
<path d="M469.01 187.90H475.01M472.01 184.90V190.90M469.76 185.65L474.26 190.15M469.76 190.15L474.26 185.65"/>
<path d="M475.83 190.23H481.83M478.83 187.23V193.23M476.58 187.98L481.08 192.48M476.58 192.48L481.08 187.98"/>
<path d="M482.66 192.80H488.66M485.66 189.80V195.80M483.41 190.55L487.91 195.05M483.41 195.05L487.91 190.55"/>
<path d="M489.48 194.73H495.48M492.48 191.73V197.73M490.23 192.48L494.73 196.98M490.23 196.98L494.73 192.48"/>
<path d="M496.30 196.34H502.30M499.30 193.34V199.34M497.05 194.09L501.55 198.59M497.05 198.59L501.55 194.09"/>
<path d="M503.12 199.39H509.12M506.12 196.39V202.39M503.87 197.14L508.37 201.64M503.87 201.64L508.37 197.14"/>
<path d="M509.94 201.32H515.94M512.94 198.32V204.32M510.69 199.07L515.19 203.57M510.69 203.57L515.19 199.07"/>
<path d="M516.77 202.69H522.77M519.77 199.69V205.69M517.52 200.44L522.02 204.94M517.52 204.94L522.02 200.44"/>
<path d="M523.59 204.53H529.59M526.59 201.53V207.53M524.34 202.28L528.84 206.78M524.34 206.78L528.84 202.28"/>
<path d="M530.41 206.94H536.41M533.41 203.94V209.94M531.16 204.69L535.66 209.19M531.16 209.19L535.66 204.69"/>
<path d="M537.23 208.07H543.23M540.23 205.07V211.07M537.98 205.82L542.48 210.32M537.98 210.32L542.48 205.82"/>
<path d="M544.06 208.79H550.06M547.06 205.79V211.79M544.81 206.54L549.31 211.04M544.81 211.04L549.31 206.54"/>
<path d="M550.88 210.00H556.88M553.88 207.00V213.00M551.63 207.75L556.13 212.25M551.63 212.25L556.13 207.75"/>
<path d="M557.70 210.48H563.70M560.70 207.48V213.48M558.45 208.23L562.95 212.73M558.45 212.73L562.95 208.23"/>
<path d="M564.52 211.68H570.52M567.52 208.68V214.68M565.27 209.43L569.77 213.93M565.27 213.93L569.77 209.43"/>
<path d="M571.34 212.89H577.34M574.34 209.89V215.89M572.09 210.64L576.59 215.14M572.09 215.14L576.59 210.64"/>
<path d="M578.17 214.09H584.17M581.17 211.09V217.09M578.92 211.84L583.42 216.34M578.92 216.34L583.42 211.84"/>
<path d="M584.99 214.73H590.99M587.99 211.73V217.73M585.74 212.48L590.24 216.98M585.74 216.98L590.24 212.48"/>
<path d="M591.81 215.54H597.81M594.81 212.54V218.54M592.56 213.29L597.06 217.79M592.56 217.79L597.06 213.29"/>
<path d="M598.63 216.18H604.63M601.63 213.18V219.18M599.38 213.93L603.88 218.43M599.38 218.43L603.88 213.93"/>
<path d="M605.46 216.90H611.46M608.46 213.90V219.90M606.21 214.65L610.71 219.15M606.21 219.15L610.71 214.65"/>
<path d="M612.28 217.15H618.28M615.28 214.15V220.15M613.03 214.90L617.53 219.40M613.03 219.40L617.53 214.90"/>
<path d="M619.10 217.87H625.10M622.10 214.87V220.87M619.85 215.62L624.35 220.12M619.85 220.12L624.35 215.62"/>
<path d="M625.92 218.67H631.92M628.92 215.67V221.67M626.67 216.42L631.17 220.92M626.67 220.92L631.17 216.42"/>
<path d="M632.74 221.56H638.74M635.74 218.56V224.56M633.49 219.31L637.99 223.81M633.49 223.81L637.99 219.31"/>
<path d="M639.57 222.77H645.57M642.57 219.77V225.77M640.32 220.52L644.82 225.02M640.32 225.02L644.82 220.52"/>
<path d="M646.39 223.49H652.39M649.39 220.49V226.49M647.14 221.24L651.64 225.74M647.14 225.74L651.64 221.24"/>
<path d="M653.21 223.97H659.21M656.21 220.97V226.97M653.96 221.72L658.46 226.22M653.96 226.22L658.46 221.72"/>
</g>
<polyline points="383.32,66.52 390.14,72.38 396.97,73.11 403.79,75.20 410.61,76.96 417.43,79.37 424.26,80.58 431.08,81.70 437.90,84.11 444.72,85.88 451.54,87.57 458.37,88.69 465.19,89.90 472.01,91.58 478.83,93.03 485.66,94.64 492.48,97.85 499.30,99.51 506.12,100.71 512.94,101.87 519.77,103.12 526.59,104.33 533.41,105.48 540.23,106.56 547.06,107.59 553.88,108.61 560.70,109.48 567.52,110.70 574.34,114.72 581.17,114.91 587.99,114.98 594.81,115.12 601.63,115.52 608.46,116.33 615.28,118.74 622.10,121.15 628.92,125.97 635.74,129.98 642.57,135.61 649.39,139.62 656.21,142.03" fill="none" stroke="#ff0000" stroke-width="1" stroke-dasharray="3.6,4"/>
<g fill="none" stroke="#ff0000" stroke-width="1.05">
<path d="M380.32 66.52H386.32M383.32 63.52V69.52"/>
<path d="M387.14 72.38H393.14M390.14 69.38V75.38"/>
<path d="M393.97 73.11H399.97M396.97 70.11V76.11"/>
<path d="M400.79 75.20H406.79M403.79 72.20V78.20"/>
<path d="M407.61 76.96H413.61M410.61 73.96V79.96"/>
<path d="M414.43 79.37H420.43M417.43 76.37V82.37"/>
<path d="M421.26 80.58H427.26M424.26 77.58V83.58"/>
<path d="M428.08 81.70H434.08M431.08 78.70V84.70"/>
<path d="M434.90 84.11H440.90M437.90 81.11V87.11"/>
<path d="M441.72 85.88H447.72M444.72 82.88V88.88"/>
<path d="M448.54 87.57H454.54M451.54 84.57V90.57"/>
<path d="M455.37 88.69H461.37M458.37 85.69V91.69"/>
<path d="M462.19 89.90H468.19M465.19 86.90V92.90"/>
<path d="M469.01 91.58H475.01M472.01 88.58V94.58"/>
<path d="M475.83 93.03H481.83M478.83 90.03V96.03"/>
<path d="M482.66 94.64H488.66M485.66 91.64V97.64"/>
<path d="M489.48 97.85H495.48M492.48 94.85V100.85"/>
<path d="M496.30 99.51H502.30M499.30 96.51V102.51"/>
<path d="M503.12 100.71H509.12M506.12 97.71V103.71"/>
<path d="M509.94 101.87H515.94M512.94 98.87V104.87"/>
<path d="M516.77 103.12H522.77M519.77 100.12V106.12"/>
<path d="M523.59 104.33H529.59M526.59 101.33V107.33"/>
<path d="M530.41 105.48H536.41M533.41 102.48V108.48"/>
<path d="M537.23 106.56H543.23M540.23 103.56V109.56"/>
<path d="M544.06 107.59H550.06M547.06 104.59V110.59"/>
<path d="M550.88 108.61H556.88M553.88 105.61V111.61"/>
<path d="M557.70 109.48H563.70M560.70 106.48V112.48"/>
<path d="M564.52 110.70H570.52M567.52 107.70V113.70"/>
<path d="M571.34 114.72H577.34M574.34 111.72V117.72"/>
<path d="M578.17 114.91H584.17M581.17 111.91V117.91"/>
<path d="M584.99 114.98H590.99M587.99 111.98V117.98"/>
<path d="M591.81 115.12H597.81M594.81 112.12V118.12"/>
<path d="M598.63 115.52H604.63M601.63 112.52V118.52"/>
<path d="M605.46 116.33H611.46M608.46 113.33V119.33"/>
<path d="M612.28 118.74H618.28M615.28 115.74V121.74"/>
<path d="M619.10 121.15H625.10M622.10 118.15V124.15"/>
<path d="M625.92 125.97H631.92M628.92 122.97V128.97"/>
<path d="M632.74 129.98H638.74M635.74 126.98V132.98"/>
<path d="M639.57 135.61H645.57M642.57 132.61V138.61"/>
<path d="M646.39 139.62H652.39M649.39 136.62V142.62"/>
<path d="M653.21 142.03H659.21M656.21 139.03V145.03"/>
</g>
<polyline points="383.32,195.94 390.14,197.86 396.97,199.47 403.79,202.93 410.61,205.34 417.43,206.94 424.26,208.71 431.08,209.91 437.90,210.96 444.72,211.76 451.54,212.57 458.37,213.09 465.19,213.53 472.01,213.89 478.83,214.17 485.66,214.41 492.48,214.61 499.30,214.80 506.12,214.96 512.94,215.11 519.77,215.25 526.59,215.38 533.41,215.50 540.23,215.61 547.06,215.72 553.88,215.82 560.70,215.92 567.52,216.01 574.34,216.10 581.17,216.18 587.99,216.27 594.81,216.35 601.63,216.43 608.46,216.51 615.28,216.58 622.10,216.66 628.92,216.73 635.74,216.80 642.57,216.86 649.39,216.93 656.21,216.98" fill="none" stroke="#00ffff" stroke-width="1" stroke-dasharray="3.6,4"/>
<g fill="none" stroke="#00ffff" stroke-width="1.05">
<path d="M383.32 199.84L379.94 193.99L386.70 193.99Z"/>
<path d="M390.14 201.76L386.77 195.91L393.52 195.91Z"/>
<path d="M396.97 203.37L393.59 197.52L400.34 197.52Z"/>
<path d="M403.79 206.83L400.41 200.98L407.17 200.98Z"/>
<path d="M410.61 209.24L407.23 203.39L413.99 203.39Z"/>
<path d="M417.43 210.84L414.06 204.99L420.81 204.99Z"/>
<path d="M424.26 212.61L420.88 206.76L427.63 206.76Z"/>
<path d="M431.08 213.81L427.70 207.97L434.46 207.97Z"/>
<path d="M437.90 214.86L434.52 209.01L441.28 209.01Z"/>
<path d="M444.72 215.66L441.34 209.81L448.10 209.81Z"/>
<path d="M451.54 216.47L448.17 210.62L454.92 210.62Z"/>
<path d="M458.37 216.99L454.99 211.14L461.74 211.14Z"/>
<path d="M465.19 217.43L461.81 211.58L468.57 211.58Z"/>
<path d="M472.01 217.79L468.63 211.94L475.39 211.94Z"/>
<path d="M478.83 218.07L475.46 212.22L482.21 212.22Z"/>
<path d="M485.66 218.31L482.28 212.46L489.03 212.46Z"/>
<path d="M492.48 218.51L489.10 212.66L495.86 212.66Z"/>
<path d="M499.30 218.70L495.92 212.85L502.68 212.85Z"/>
<path d="M506.12 218.86L502.74 213.01L509.50 213.01Z"/>
<path d="M512.94 219.01L509.57 213.16L516.32 213.16Z"/>
<path d="M519.77 219.15L516.39 213.30L523.14 213.30Z"/>
<path d="M526.59 219.28L523.21 213.43L529.97 213.43Z"/>
<path d="M533.41 219.40L530.03 213.55L536.79 213.55Z"/>
<path d="M540.23 219.51L536.86 213.66L543.61 213.66Z"/>
<path d="M547.06 219.62L543.68 213.77L550.43 213.77Z"/>
<path d="M553.88 219.72L550.50 213.87L557.26 213.87Z"/>
<path d="M560.70 219.82L557.32 213.97L564.08 213.97Z"/>
<path d="M567.52 219.91L564.14 214.06L570.90 214.06Z"/>
<path d="M574.34 220.00L570.97 214.15L577.72 214.15Z"/>
<path d="M581.17 220.08L577.79 214.23L584.54 214.23Z"/>
<path d="M587.99 220.17L584.61 214.32L591.37 214.32Z"/>
<path d="M594.81 220.25L591.43 214.40L598.19 214.40Z"/>
<path d="M601.63 220.33L598.26 214.48L605.01 214.48Z"/>
<path d="M608.46 220.41L605.08 214.56L611.83 214.56Z"/>
<path d="M615.28 220.48L611.90 214.63L618.66 214.63Z"/>
<path d="M622.10 220.56L618.72 214.71L625.48 214.71Z"/>
<path d="M628.92 220.63L625.54 214.78L632.30 214.78Z"/>
<path d="M635.74 220.70L632.37 214.85L639.12 214.85Z"/>
<path d="M642.57 220.76L639.19 214.91L645.94 214.91Z"/>
<path d="M649.39 220.83L646.01 214.98L652.77 214.98Z"/>
<path d="M656.21 220.88L652.83 215.03L659.59 215.03Z"/>
</g>
</g>
<rect x="18.2" y="13.5" width="306.8" height="241.0" fill="none" stroke="#8a8a8a" stroke-width="1"/>
<path d="M18.50 254.5v-3.5M18.50 13.5v3.5M69.50 254.5v-3.5M69.50 13.5v3.5M120.50 254.5v-3.5M120.50 13.5v3.5M171.50 254.5v-3.5M171.50 13.5v3.5M222.50 254.5v-3.5M222.50 13.5v3.5M273.50 254.5v-3.5M273.50 13.5v3.5M324.50 254.5v-3.5M324.50 13.5v3.5M18.2 254.50h3.5M325.0 254.50h-3.5M18.2 230.50h3.5M325.0 230.50h-3.5M18.2 206.50h3.5M325.0 206.50h-3.5M18.2 182.50h3.5M325.0 182.50h-3.5M18.2 158.50h3.5M325.0 158.50h-3.5M18.2 134.50h3.5M325.0 134.50h-3.5M18.2 109.50h3.5M325.0 109.50h-3.5M18.2 85.50h3.5M325.0 85.50h-3.5M18.2 61.50h3.5M325.0 61.50h-3.5M18.2 37.50h3.5M325.0 37.50h-3.5M18.2 13.50h3.5M325.0 13.50h-3.5" stroke="#8a8a8a" stroke-width="1" fill="none"/>
<text x="18.20" y="268.3" transform="rotate(0.05 18.20 268.3)" text-anchor="middle" class="t">0</text>
<text x="69.33" y="268.3" transform="rotate(0.05 69.33 268.3)" text-anchor="middle" class="t">10</text>
<text x="120.47" y="268.3" transform="rotate(0.05 120.47 268.3)" text-anchor="middle" class="t">20</text>
<text x="171.60" y="268.3" transform="rotate(0.05 171.60 268.3)" text-anchor="middle" class="t">30</text>
<text x="222.73" y="268.3" transform="rotate(0.05 222.73 268.3)" text-anchor="middle" class="t">40</text>
<text x="273.87" y="268.3" transform="rotate(0.05 273.87 268.3)" text-anchor="middle" class="t">50</text>
<text x="325.00" y="268.3" transform="rotate(0.05 325.00 268.3)" text-anchor="middle" class="t">60</text>
<text x="14.00" y="258.20" transform="rotate(0.05 14.00 258.20)" text-anchor="end" class="t">0.2</text>
<text x="14.00" y="234.10" transform="rotate(0.05 14.00 234.10)" text-anchor="end" class="t">0.4</text>
<text x="14.00" y="210.00" transform="rotate(0.05 14.00 210.00)" text-anchor="end" class="t">0.6</text>
<text x="14.00" y="185.90" transform="rotate(0.05 14.00 185.90)" text-anchor="end" class="t">0.8</text>
<text x="14.00" y="161.80" transform="rotate(0.05 14.00 161.80)" text-anchor="end" class="t">1</text>
<text x="14.00" y="137.70" transform="rotate(0.05 14.00 137.70)" text-anchor="end" class="t">1.2</text>
<text x="14.00" y="113.60" transform="rotate(0.05 14.00 113.60)" text-anchor="end" class="t">1.4</text>
<text x="14.00" y="89.50" transform="rotate(0.05 14.00 89.50)" text-anchor="end" class="t">1.6</text>
<text x="14.00" y="65.40" transform="rotate(0.05 14.00 65.40)" text-anchor="end" class="t">1.8</text>
<text x="14.00" y="41.30" transform="rotate(0.05 14.00 41.30)" text-anchor="end" class="t">2</text>
<text x="14.00" y="17.20" transform="rotate(0.05 14.00 17.20)" text-anchor="end" class="t">2.2</text>
<path d="M19.10 6.2l4.4 4.4M23.50 6.2l-4.4 4.4" stroke="#555" stroke-width="0.75" fill="none"/>
<text x="25.40" y="10.8" transform="rotate(0.05 25.40 10.8)" class="t">10</text>
<text x="35.30" y="6.9" transform="rotate(0.05 35.30 6.9)" class="sup">5</text>
<text x="171.60" y="281.5" transform="rotate(0.05 171.60 281.5)" text-anchor="middle" class="l">(a)</text>
<rect x="376.5" y="13.5" width="307.0" height="241.0" fill="none" stroke="#8a8a8a" stroke-width="1"/>
<path d="M376.50 254.5v-3.5M376.50 13.5v3.5M444.50 254.5v-3.5M444.50 13.5v3.5M512.50 254.5v-3.5M512.50 13.5v3.5M581.50 254.5v-3.5M581.50 13.5v3.5M649.50 254.5v-3.5M649.50 13.5v3.5M376.5 254.50h3.5M683.5 254.50h-3.5M376.5 214.50h3.5M683.5 214.50h-3.5M376.5 174.50h3.5M683.5 174.50h-3.5M376.5 134.50h3.5M683.5 134.50h-3.5M376.5 93.50h3.5M683.5 93.50h-3.5M376.5 53.50h3.5M683.5 53.50h-3.5M376.5 13.50h3.5M683.5 13.50h-3.5" stroke="#8a8a8a" stroke-width="1" fill="none"/>
<text x="376.50" y="268.3" transform="rotate(0.05 376.50 268.3)" text-anchor="middle" class="t">60</text>
<text x="444.72" y="268.3" transform="rotate(0.05 444.72 268.3)" text-anchor="middle" class="t">70</text>
<text x="512.94" y="268.3" transform="rotate(0.05 512.94 268.3)" text-anchor="middle" class="t">80</text>
<text x="581.17" y="268.3" transform="rotate(0.05 581.17 268.3)" text-anchor="middle" class="t">90</text>
<text x="649.39" y="268.3" transform="rotate(0.05 649.39 268.3)" text-anchor="middle" class="t">100</text>
<text x="372.30" y="258.20" transform="rotate(0.05 372.30 258.20)" text-anchor="end" class="t">2.5</text>
<text x="372.30" y="218.03" transform="rotate(0.05 372.30 218.03)" text-anchor="end" class="t">3</text>
<text x="372.30" y="177.87" transform="rotate(0.05 372.30 177.87)" text-anchor="end" class="t">3.5</text>
<text x="372.30" y="137.70" transform="rotate(0.05 372.30 137.70)" text-anchor="end" class="t">4</text>
<text x="372.30" y="97.53" transform="rotate(0.05 372.30 97.53)" text-anchor="end" class="t">4.5</text>
<text x="372.30" y="57.37" transform="rotate(0.05 372.30 57.37)" text-anchor="end" class="t">5</text>
<text x="372.30" y="17.20" transform="rotate(0.05 372.30 17.20)" text-anchor="end" class="t">5.5</text>
<path d="M377.40 6.2l4.4 4.4M381.80 6.2l-4.4 4.4" stroke="#555" stroke-width="0.75" fill="none"/>
<text x="383.70" y="10.8" transform="rotate(0.05 383.70 10.8)" class="t">10</text>
<text x="393.60" y="6.9" transform="rotate(0.05 393.60 6.9)" class="sup">4</text>
<text x="530.00" y="281.5" transform="rotate(0.05 530.00 281.5)" text-anchor="middle" class="l">(b)</text>
<rect x="235.5" y="20.5" width="82" height="72" fill="#fff" stroke="#8a8a8a" stroke-width="1"/>
<line x1="238.5" y1="27.60" x2="266.8" y2="27.60" stroke="#ffff00" stroke-width="0.9"/>
<g fill="none" stroke="#ffff00" stroke-width="0.8"><path d="M256.55 27.60L250.70 24.22L250.70 30.98Z"/></g>
<text x="268.70" y="30.60" transform="rotate(0.05 268.70 30.60)" class="g">HCOA</text>
<line x1="238.5" y1="39.15" x2="266.8" y2="39.15" stroke="#000000" stroke-width="0.9"/>
<g fill="none" stroke="#000000" stroke-width="0.8"><path d="M252.65 35.15L255.45 39.15L252.65 43.15L249.85 39.15Z"/></g>
<text x="268.70" y="42.15" transform="rotate(0.05 268.70 42.15)" class="g">BBPSO</text>
<line x1="238.5" y1="50.70" x2="266.8" y2="50.70" stroke="#00ff00" stroke-width="0.9"/>
<g fill="none" stroke="#00ff00" stroke-width="0.8"><circle cx="252.65" cy="50.70" r="3.00"/></g>
<text x="268.70" y="53.70" transform="rotate(0.05 268.70 53.70)" class="g">PBBPSO</text>
<line x1="238.5" y1="62.25" x2="266.8" y2="62.25" stroke="#0000ff" stroke-width="0.9"/>
<g fill="none" stroke="#0000ff" stroke-width="0.8"><path d="M249.65 62.25H255.65M252.65 59.25V65.25M250.40 60.00L254.90 64.50M250.40 64.50L254.90 60.00"/></g>
<text x="268.70" y="65.25" transform="rotate(0.05 268.70 65.25)" class="g">DLSBBPSO</text>
<line x1="238.5" y1="73.80" x2="266.8" y2="73.80" stroke="#ff0000" stroke-width="0.9" stroke-dasharray="3.6,4"/>
<g fill="none" stroke="#ff0000" stroke-width="0.8"><path d="M249.65 73.80H255.65M252.65 70.80V76.80"/></g>
<text x="268.70" y="76.80" transform="rotate(0.05 268.70 76.80)" class="g">TBBPSO</text>
<line x1="238.5" y1="85.35" x2="266.8" y2="85.35" stroke="#00ffff" stroke-width="0.9" stroke-dasharray="3.6,4"/>
<g fill="none" stroke="#00ffff" stroke-width="0.8"><path d="M252.65 89.25L249.27 83.40L256.03 83.40Z"/></g>
<text x="268.70" y="88.35" transform="rotate(0.05 268.70 88.35)" class="g">ETBBPSO</text>
<rect x="593.5" y="20.5" width="82" height="72" fill="#fff" stroke="#8a8a8a" stroke-width="1"/>
<line x1="596.5" y1="27.60" x2="624.8" y2="27.60" stroke="#ffff00" stroke-width="0.9"/>
<g fill="none" stroke="#ffff00" stroke-width="0.8"><path d="M614.55 27.60L608.70 24.22L608.70 30.98Z"/></g>
<text x="626.70" y="30.60" transform="rotate(0.05 626.70 30.60)" class="g">HCOA</text>
<line x1="596.5" y1="39.15" x2="624.8" y2="39.15" stroke="#000000" stroke-width="0.9"/>
<g fill="none" stroke="#000000" stroke-width="0.8"><path d="M610.65 35.15L613.45 39.15L610.65 43.15L607.85 39.15Z"/></g>
<text x="626.70" y="42.15" transform="rotate(0.05 626.70 42.15)" class="g">BBPSO</text>
<line x1="596.5" y1="50.70" x2="624.8" y2="50.70" stroke="#00ff00" stroke-width="0.9"/>
<g fill="none" stroke="#00ff00" stroke-width="0.8"><circle cx="610.65" cy="50.70" r="3.00"/></g>
<text x="626.70" y="53.70" transform="rotate(0.05 626.70 53.70)" class="g">PBBPSO</text>
<line x1="596.5" y1="62.25" x2="624.8" y2="62.25" stroke="#0000ff" stroke-width="0.9"/>
<g fill="none" stroke="#0000ff" stroke-width="0.8"><path d="M607.65 62.25H613.65M610.65 59.25V65.25M608.40 60.00L612.90 64.50M608.40 64.50L612.90 60.00"/></g>
<text x="626.70" y="65.25" transform="rotate(0.05 626.70 65.25)" class="g">DLSBBPSO</text>
<line x1="596.5" y1="73.80" x2="624.8" y2="73.80" stroke="#ff0000" stroke-width="0.9" stroke-dasharray="3.6,4"/>
<g fill="none" stroke="#ff0000" stroke-width="0.8"><path d="M607.65 73.80H613.65M610.65 70.80V76.80"/></g>
<text x="626.70" y="76.80" transform="rotate(0.05 626.70 76.80)" class="g">TBBPSO</text>
<line x1="596.5" y1="85.35" x2="624.8" y2="85.35" stroke="#00ffff" stroke-width="0.9" stroke-dasharray="3.6,4"/>
<g fill="none" stroke="#00ffff" stroke-width="0.8"><path d="M610.65 89.25L607.27 83.40L614.03 83.40Z"/></g>
<text x="626.70" y="88.35" transform="rotate(0.05 626.70 88.35)" class="g">ETBBPSO</text>
</svg>
</body></html>
